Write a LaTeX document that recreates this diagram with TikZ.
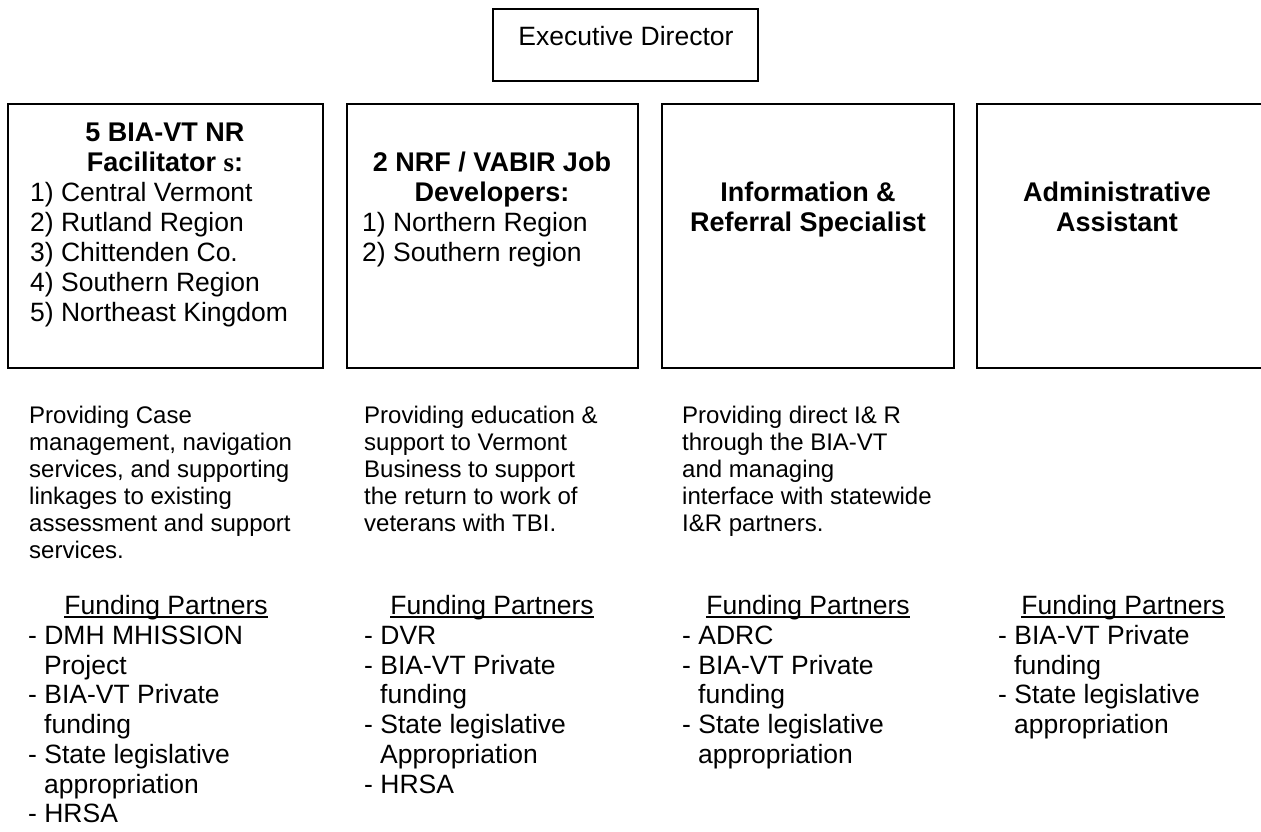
\documentclass[tikz,border=0pt]{standalone}
\usepackage{fontspec}
\setmainfont{Liberation Sans}
\newfontfamily\serifface{Liberation Serif}
\begin{document}
\begin{tikzpicture}[x=1pt,y=-1pt,
  boxst/.style={draw=black, line width=2pt, inner sep=0pt},
  btext/.style={font=\fontsize{27}{30}\selectfont\bfseries, inner sep=0pt, anchor=base},
  ntext/.style={font=\fontsize{26.5}{30}\selectfont, inner sep=0pt, anchor=base west},
  ctext/.style={font=\fontsize{26.5}{30}\selectfont, inner sep=0pt, anchor=base},
  dtext/.style={font=\fontsize{24}{27}\selectfont, inner sep=0pt, anchor=base west},
  uline/.style={line width=1.6pt}]
\useasboundingbox (0,0) rectangle (1261,831);
\fill[white] (0,0) rectangle (1261,831);

% boxes
\node[boxst, minimum width=265, minimum height=72] (ed) at (625.5,45) {};
\node[boxst, minimum width=315, minimum height=264] (b1) at (165.5,236) {};
\node[boxst, minimum width=291, minimum height=264] (b2) at (492.5,236) {};
\node[boxst, minimum width=292, minimum height=264] (b3) at (808,236) {};
\node[boxst, minimum width=298, minimum height=264] (b4) at (1126,236) {};

% executive director
\node[ctext] (edt) at (626,45) {Executive Director};

% box 1
\node[btext] (b1l1) at (165,141) {5 BIA-VT NR};
\node[btext] (b1l2) at (165,171) {Facilitator {\serifface\bfseries s}:};
\node[ntext] (b1l3) at (30,201) {1) Central Vermont};
\node[ntext] (b1l4) at (30,231) {2) Rutland Region};
\node[ntext] (b1l5) at (30,261) {3) Chittenden Co.};
\node[ntext] (b1l6) at (30,291) {4) Southern Region};
\node[ntext] (b1l7) at (30,321) {5) Northeast Kingdom};

% box 2
\node[btext] (b2l1) at (492,171) {2 NRF / VABIR Job};
\node[btext] (b2l2) at (492,201) {Developers:};
\node[ntext] (b2l3) at (362,231) {1) Northern Region};
\node[ntext] (b2l4) at (362,261) {2) Southern region};

% box 3
\node[btext] (b3l1) at (808,201) {Information \&};
\node[btext] (b3l2) at (808,231) {Referral Specialist};

% box 4
\node[btext] (b4l1) at (1117,201) {Administrative};
\node[btext] (b4l2) at (1117,231) {Assistant};

% descriptions
\node[dtext] (d1a) at (29,423) {Providing Case};
\node[dtext] (d1b) at (29,450) {management, navigation};
\node[dtext] (d1c) at (29,477) {services, and supporting};
\node[dtext] (d1d) at (29,504) {linkages to existing};
\node[dtext] (d1e) at (29,531) {assessment and support};
\node[dtext] (d1f) at (29,558) {services.};

\node[dtext] (d2a) at (364,423) {Providing education \&};
\node[dtext] (d2b) at (364,450) {support to Vermont};
\node[dtext] (d2c) at (364,477) {Business to support};
\node[dtext] (d2d) at (364,504) {the return to work of};
\node[dtext] (d2e) at (364,531) {veterans with TBI.};

\node[dtext] (d3a) at (682,423) {Providing direct I\& R};
\node[dtext] (d3b) at (682,450) {through the BIA-VT};
\node[dtext] (d3c) at (682,477) {and managing};
\node[dtext] (d3d) at (682,504) {interface with statewide};
\node[dtext] (d3e) at (682,531) {I\&R partners.};

% funding partners
\node[ctext] (f1h) at (166,614) {Funding Partners};
\node[ntext] (f1a) at (28,644) {- DMH MHISSION};
\node[ntext] (f1b) at (44,674) {Project};
\node[ntext] (f1c) at (28,703) {- BIA-VT Private};
\node[ntext] (f1d) at (44,733) {funding};
\node[ntext] (f1e) at (28,763) {- State legislative};
\node[ntext] (f1f) at (44,793) {appropriation};
\node[ntext] (f1g) at (28,822) {- HRSA};

\node[ctext] (f2h) at (492,614) {Funding Partners};
\node[ntext] (f2a) at (364,644) {- DVR};
\node[ntext] (f2b) at (364,674) {- BIA-VT Private};
\node[ntext] (f2c) at (380,703) {funding};
\node[ntext] (f2d) at (364,733) {- State legislative};
\node[ntext] (f2e) at (380,763) {Appropriation};
\node[ntext] (f2f) at (364,793) {- HRSA};

\node[ctext] (f3h) at (808,614) {Funding Partners};
\node[ntext] (f3a) at (682,644) {- ADRC};
\node[ntext] (f3b) at (682,674) {- BIA-VT Private};
\node[ntext] (f3c) at (698,703) {funding};
\node[ntext] (f3d) at (682,733) {- State legislative};
\node[ntext] (f3e) at (698,763) {appropriation};

\node[ctext] (f4h) at (1123,614) {Funding Partners};
\node[ntext] (f4a) at (998,644) {- BIA-VT Private};
\node[ntext] (f4b) at (1014,674) {funding};
\node[ntext] (f4c) at (998,703) {- State legislative};
\node[ntext] (f4d) at (1014,733) {appropriation};

% underlines of the headers
\foreach \h in {f1h,f2h,f3h,f4h}
  \draw[uline] ([yshift=-3pt]\h.base west) -- ([yshift=-3pt]\h.base east);
\end{tikzpicture}
\end{document}
